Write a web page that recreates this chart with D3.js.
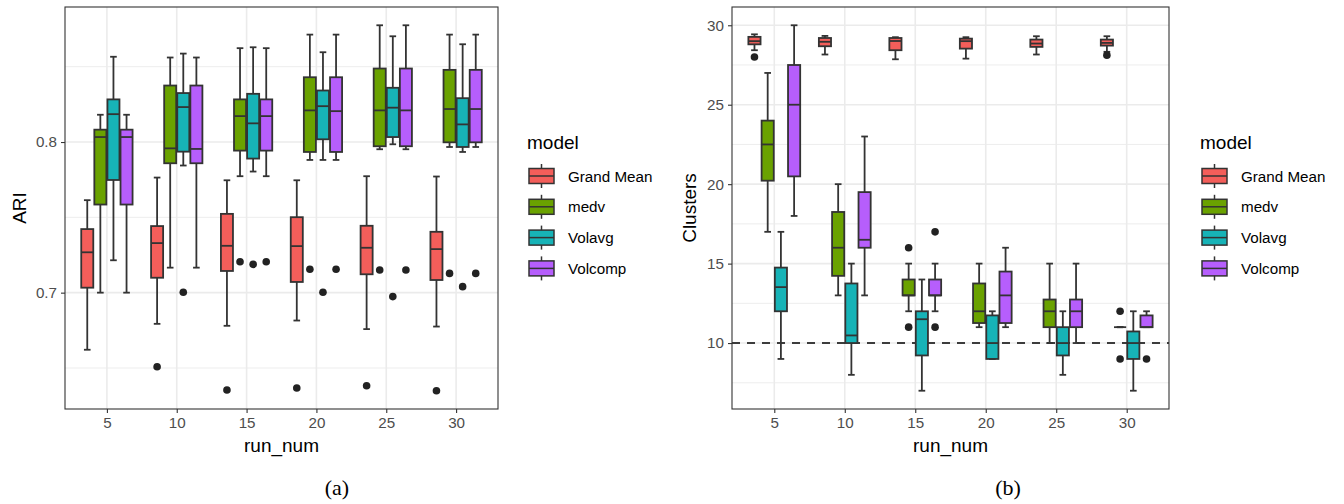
<!DOCTYPE html>
<html>
<head>
<meta charset="utf-8">
<script src="https://cdn.jsdelivr.net/npm/d3@7"></script>
<style>
  body { margin: 0; background: #fff; }
  text { font-family: "Liberation Sans", Arial, Helvetica, sans-serif; }
</style>
</head>
<body>
<svg id="chart" width="1344" height="504"></svg>
<script>
// run numbers on the x axis and the four models
const categories = ["5", "10", "15", "20", "25", "30"];
const models = ["Grand Mean", "medv", "Volavg", "Volcomp"];
const modelColors = ["#F35E5A", "#6AA200", "#17B3B7", "#B65EFC"];

// ARI: [lower whisker, Q1, median, Q3, upper whisker] per run number
const ariGrandMean = [
  [0.6621, 0.7033, 0.7268, 0.7422, 0.7614],
  [0.6793, 0.7099, 0.7329, 0.7442, 0.7764],
  [0.6780, 0.7144, 0.7311, 0.7523, 0.7746],
  [0.6815, 0.7071, 0.7309, 0.7501, 0.7746],
  [0.6758, 0.7122, 0.7298, 0.7444, 0.7773],
  [0.6775, 0.7084, 0.7289, 0.7404, 0.7771]
];
const ariMedv = [
  [0.7000, 0.7585, 0.8033, 0.8082, 0.8181],
  [0.7166, 0.7859, 0.7958, 0.8375, 0.8561],
  [0.7773, 0.7943, 0.8172, 0.8283, 0.8623],
  [0.7881, 0.7934, 0.8210, 0.8430, 0.8713],
  [0.7952, 0.7972, 0.8210, 0.8488, 0.8775],
  [0.7967, 0.7998, 0.8219, 0.8479, 0.8713]
];
const ariVolavg = [
  [0.7215, 0.7748, 0.8185, 0.8283, 0.8566],
  [0.7844, 0.7936, 0.8232, 0.8325, 0.8587],
  [0.7804, 0.7890, 0.8124, 0.8320, 0.8629],
  [0.7881, 0.8018, 0.8238, 0.8342, 0.8596],
  [0.7985, 0.8033, 0.8228, 0.8360, 0.8702],
  [0.7934, 0.7967, 0.8117, 0.8291, 0.8649]
];
const ariVolcomp = [
  [0.7000, 0.7585, 0.8033, 0.8082, 0.8181],
  [0.7166, 0.7859, 0.7954, 0.8375, 0.8561],
  [0.7773, 0.7943, 0.8172, 0.8283, 0.8623],
  [0.7881, 0.7934, 0.8205, 0.8430, 0.8713],
  [0.7952, 0.7972, 0.8210, 0.8488, 0.8775],
  [0.7967, 0.7998, 0.8219, 0.8479, 0.8713]
];
// ARI outliers: [run number, model, value]
const ariOutliers = [
  ["10", "Grand Mean", 0.6508], ["15", "Grand Mean", 0.6354], ["20", "Grand Mean", 0.6367],
  ["25", "Grand Mean", 0.6382], ["30", "Grand Mean", 0.6349],
  ["15", "medv", 0.7205], ["20", "medv", 0.7155], ["25", "medv", 0.7150], ["30", "medv", 0.7128],
  ["10", "Volavg", 0.7003], ["15", "Volavg", 0.7188], ["20", "Volavg", 0.7003],
  ["25", "Volavg", 0.6974], ["30", "Volavg", 0.7040],
  ["15", "Volcomp", 0.7205], ["20", "Volcomp", 0.7155], ["25", "Volcomp", 0.7150], ["30", "Volcomp", 0.7128]
];

// Clusters: [lower whisker, Q1, median, Q3, upper whisker] per run number
const clGrandMean = [
  [28.43, 28.80, 29.00, 29.27, 29.43],
  [28.16, 28.68, 28.96, 29.20, 29.33],
  [27.86, 28.43, 29.01, 29.20, 29.25],
  [27.90, 28.53, 29.00, 29.16, 29.25],
  [28.16, 28.64, 28.85, 29.10, 29.31],
  [28.33, 28.72, 28.89, 29.10, 29.31]
];
const clMedv = [
  [17, 20.22, 22.5, 24.0, 27],
  [13, 14.23, 16.0, 18.25, 20],
  [12, 13.0, 13.0, 14.0, 15],
  [11, 11.26, 12.0, 13.75, 15],
  [10, 11.0, 12.0, 12.74, 15],
  [11, 11.0, 11.0, 11.0, 11]
];
const clVolavg = [
  [9, 12.0, 13.52, 14.75, 17],
  [8, 10.0, 10.48, 13.75, 15],
  [7, 9.22, 11.5, 12.0, 14],
  [9, 9.0, 10.0, 11.74, 12],
  [8, 9.22, 10.0, 11.0, 12],
  [7, 9.0, 10.0, 10.73, 12]
];
const clVolcomp = [
  [18, 20.49, 25.0, 27.5, 30],
  [13, 16.0, 16.5, 19.5, 23],
  [12, 13.0, 13.0, 14.0, 15],
  [11, 11.26, 13.0, 14.5, 16],
  [10, 11.0, 12.0, 12.74, 15],
  [11, 11.0, 11.0, 11.74, 12]
];
const clOutliers = [
  ["5", "Grand Mean", 28.0], ["30", "Grand Mean", 28.12],
  ["15", "medv", 16], ["15", "medv", 11], ["30", "medv", 12], ["30", "medv", 9],
  ["15", "Volcomp", 17], ["15", "Volcomp", 11], ["30", "Volcomp", 9]
];
const clReference = 10;

const ariTicks = [0.7, 0.8];
const ariMinor = [0.65, 0.75, 0.85];
const clTicks = [10, 15, 20, 25, 30];
const clMinor = [7.5, 12.5, 17.5, 22.5, 27.5];

const svg = d3.select("#chart");
const LW = 1.8;

function drawPanel(opt) {
  const { left, right, top, bottom } = opt.box;
  const stats = opt.stats;
  const all = [];
  models.forEach(m => stats[m].forEach(s => all.push(...s)));
  opt.outliers.forEach(o => all.push(o[2]));
  const [lo, hi] = d3.extent(all);
  const pad = (hi - lo) * 0.05;

  const y = d3.scaleLinear().domain([lo - pad, hi + pad]).range([bottom, top]);
  const x = d3.scalePoint().domain(categories).range([left, right]).padding(0.6);
  const step = x.step();
  const slot = d3.scaleBand().domain(models).range([-0.375 * step, 0.375 * step]);
  const bw = slot.bandwidth() * 0.92;
  const cx = (c, m) => x(c) + slot(m) + slot.bandwidth() / 2;

  const g = svg.append("g");

  // grid
  g.append("rect").attr("x", left).attr("y", top).attr("width", right - left)
    .attr("height", bottom - top).attr("fill", "#fff");
  g.selectAll(".minor").data(opt.minor).join("line")
    .attr("x1", left).attr("x2", right)
    .attr("y1", d => y(d)).attr("y2", d => y(d))
    .attr("stroke", "#EBEBEB").attr("stroke-width", 0.9);
  g.selectAll(".majorY").data(opt.ticks).join("line")
    .attr("x1", left).attr("x2", right)
    .attr("y1", d => y(d)).attr("y2", d => y(d))
    .attr("stroke", "#EBEBEB").attr("stroke-width", 1.6);
  g.selectAll(".majorX").data(categories).join("line")
    .attr("x1", d => x(d)).attr("x2", d => x(d))
    .attr("y1", top).attr("y2", bottom)
    .attr("stroke", "#EBEBEB").attr("stroke-width", 1.6);

  if (opt.hline !== undefined) {
    g.append("line").attr("x1", left).attr("x2", right)
      .attr("y1", y(opt.hline)).attr("y2", y(opt.hline))
      .attr("stroke", "#000").attr("stroke-width", 1.6)
      .attr("stroke-dasharray", "8,7");
  }

  // boxes
  models.forEach((m, j) => {
    const rows = stats[m].map((s, i) => ({ c: categories[i], s }));
    const gm = g.append("g");
    const capW = bw * 0.55;
    rows.forEach(({ c, s }) => {
      const xc = cx(c, m);
      const [wl, q1, md, q3, wh] = s;
      const line = (x1, y1, x2, y2) => gm.append("line")
        .attr("x1", x1).attr("y1", y1).attr("x2", x2).attr("y2", y2)
        .attr("stroke", "#333").attr("stroke-width", LW);
      // whiskers and caps
      line(xc, y(wh), xc, y(q3));
      line(xc, y(q1), xc, y(wl));
      line(xc - capW / 2, y(wh), xc + capW / 2, y(wh));
      line(xc - capW / 2, y(wl), xc + capW / 2, y(wl));
      // box
      gm.append("rect").attr("x", xc - bw / 2).attr("y", y(q3))
        .attr("width", bw).attr("height", Math.max(0, y(q1) - y(q3)))
        .attr("fill", modelColors[j]).attr("stroke", "#333").attr("stroke-width", LW);
      line(xc - bw / 2, y(md), xc + bw / 2, y(md));
    });
  });

  // outliers
  g.selectAll(".out").data(opt.outliers).join("circle")
    .attr("cx", d => cx(d[0], d[1])).attr("cy", d => y(d[2]))
    .attr("r", 3.8).attr("fill", "#222");

  // border
  g.append("rect").attr("x", left).attr("y", top).attr("width", right - left)
    .attr("height", bottom - top).attr("fill", "none")
    .attr("stroke", "#333").attr("stroke-width", 1.1);

  // y axis
  const yAxis = g.append("g").attr("transform", `translate(${left},0)`)
    .call(d3.axisLeft(y).tickValues(opt.ticks).tickSize(4).tickPadding(4)
      .tickFormat(opt.fmt));
  yAxis.select(".domain").remove();
  yAxis.selectAll(".tick line").attr("stroke", "#333").attr("stroke-width", 1.1);
  yAxis.selectAll(".tick text").attr("fill", "#4D4D4D").style("font-size", "15.2px")
    .style("font-family", "'Liberation Sans', Arial, sans-serif");

  // x axis
  const xAxis = g.append("g").attr("transform", `translate(0,${bottom})`)
    .call(d3.axisBottom(x).tickSize(4).tickPadding(4));
  xAxis.select(".domain").remove();
  xAxis.selectAll(".tick line").attr("stroke", "#333").attr("stroke-width", 1.1);
  xAxis.selectAll(".tick text").attr("fill", "#4D4D4D").style("font-size", "15.2px")
    .style("font-family", "'Liberation Sans', Arial, sans-serif");

  // axis titles
  g.append("text").attr("x", (left + right) / 2).attr("y", 452)
    .attr("text-anchor", "middle").style("font-size", "19px").attr("fill", "#000")
    .text("run_num");
  g.append("text")
    .attr("transform", `translate(${opt.yTitleX},${(top + bottom) / 2}) rotate(-90)`)
    .attr("text-anchor", "middle").style("font-size", "19px").attr("fill", "#000")
    .text(opt.yTitle);

  // legend
  const lg = g.append("g").attr("transform", `translate(${opt.legendX},0)`);
  lg.append("text").attr("x", -2).attr("y", 149).style("font-size", "19px").text("model");
  models.forEach((m, j) => {
    const cy = 176 + j * 30.8;
    lg.append("line").attr("x1", 12.5).attr("x2", 12.5).attr("y1", cy - 12).attr("y2", cy + 12)
      .attr("stroke", "#333").attr("stroke-width", 1.5);
    lg.append("rect").attr("x", 0).attr("y", cy - 7.5).attr("width", 25).attr("height", 15)
      .attr("fill", modelColors[j]).attr("stroke", "#333").attr("stroke-width", 1.5);
    lg.append("line").attr("x1", 0).attr("x2", 25).attr("y1", cy).attr("y2", cy)
      .attr("stroke", "#333").attr("stroke-width", 1.5);
    lg.append("text").attr("x", 39).attr("y", cy + 5.5).style("font-size", "15.2px")
      .attr("fill", "#000").text(m);
  });

  // sub-figure label
  svg.append("text").attr("x", opt.tagX).attr("y", 495).attr("text-anchor", "middle")
    .style("font-family", "'Liberation Serif', 'Times New Roman', serif")
    .style("font-size", "22px").text(opt.tag);
}

drawPanel({
  box: { left: 65, right: 498, top: 7, bottom: 409 },
  stats: { "Grand Mean": ariGrandMean, "medv": ariMedv, "Volavg": ariVolavg, "Volcomp": ariVolcomp },
  outliers: ariOutliers,
  ticks: ariTicks, minor: ariMinor, fmt: d3.format(".1f"),
  yTitle: "ARI", yTitleX: 26,
  legendX: 529, tag: "(a)", tagX: 337
});

drawPanel({
  box: { left: 732, right: 1169, top: 7, bottom: 409 },
  stats: { "Grand Mean": clGrandMean, "medv": clMedv, "Volavg": clVolavg, "Volcomp": clVolcomp },
  outliers: clOutliers,
  ticks: clTicks, minor: clMinor, fmt: d3.format("d"),
  yTitle: "Clusters", yTitleX: 696, hline: clReference,
  legendX: 1202, tag: "(b)", tagX: 1008
});
</script>
</body>
</html>
